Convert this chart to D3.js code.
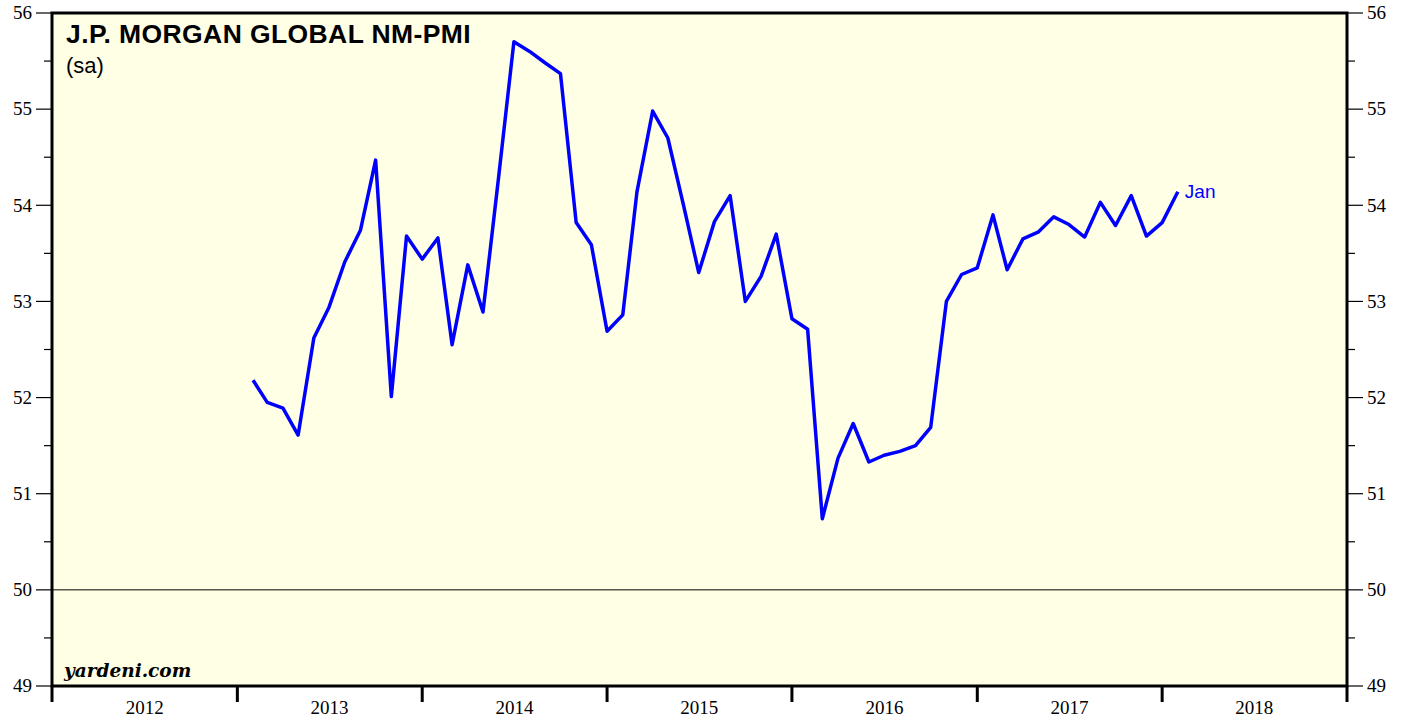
<!DOCTYPE html>
<html>
<head>
<meta charset="utf-8">
<script src="https://cdn.jsdelivr.net/npm/d3@7"></script>
<style>
  html, body { margin: 0; padding: 0; background: #fff; }
  svg { display: block; }
</style>
</head>
<body>
<div id="chart"></div>
<script>
// Monthly readings, Jan 2013 .. Jan 2018
var startYear = 2013, startMonth = 0;
var pmiValues = [
  52.18, 51.95, 51.89, 51.61, 52.62, 52.94, 53.41, 53.74, 54.47, 52.01, 53.68, 53.44,
  53.66, 52.55, 53.38, 52.89, 54.30, 55.70, 55.60, 55.48, 55.37, 53.82, 53.59, 52.69,
  52.86, 54.14, 54.98, 54.70, 54.00, 53.30, 53.83, 54.10, 53.00, 53.26, 53.70, 52.82,
  52.71, 50.74, 51.37, 51.73, 51.33, 51.40, 51.44, 51.50, 51.69, 53.00, 53.28, 53.35,
  53.90, 53.33, 53.65, 53.72, 53.88, 53.80, 53.67, 54.03, 53.79, 54.10, 53.68, 53.82,
  54.14
];
var yearLabels = [2012, 2013, 2014, 2015, 2016, 2017, 2018];
var yTicks = [49, 50, 51, 52, 53, 54, 55, 56];
var lastLabel = "Jan";

var W = 1408, H = 721;
var margin = {top: 13, right: 61, bottom: 35, left: 52};

// plotted at month end
var data = pmiValues.map(function(v, i) {
  return {date: new Date(startYear, startMonth + i + 1, 1), value: v};
});

var x = d3.scaleTime()
  .domain([new Date(2012, 0, 1), new Date(2019, 0, 1)])
  .range([margin.left, W - margin.right]);
var y = d3.scaleLinear()
  .domain([49, 56])
  .range([H - margin.bottom, margin.top]);

var svg = d3.select("#chart").append("svg")
  .attr("width", W).attr("height", H);

// background
svg.append("rect")
  .attr("x", x.range()[0]).attr("y", y(56))
  .attr("width", x.range()[1] - x.range()[0])
  .attr("height", y(49) - y(56))
  .attr("fill", "#ffffe6");

// 50 reference line
svg.append("line")
  .attr("x1", x.range()[0]).attr("x2", x.range()[1])
  .attr("y1", y(50)).attr("y2", y(50))
  .attr("stroke", "#000").attr("stroke-width", 1);

// y axes: major + half ticks
var halfTicks = d3.range(49.5, 56, 1);
function yAxis(g, side) {
  var x0 = side === "left" ? x.range()[0] : x.range()[1];
  var dir = side === "left" ? -1 : 1;
  g.selectAll(".maj").data(yTicks).enter().append("line")
    .attr("x1", x0).attr("x2", x0 + dir * 16)
    .attr("y1", y).attr("y2", y)
    .attr("stroke", "#000").attr("stroke-width", 1.2);
  g.selectAll(".min").data(halfTicks).enter().append("line")
    .attr("x1", x0).attr("x2", x0 + dir * 8)
    .attr("y1", y).attr("y2", y)
    .attr("stroke", "#000").attr("stroke-width", 1.2);
  g.selectAll("text").data(yTicks).enter().append("text")
    .attr("x", x0 + dir * 20)
    .attr("y", function(d) { return y(d); })
    .attr("dy", "0.33em")
    .attr("text-anchor", side === "left" ? "end" : "start")
    .style("font-family", "'Liberation Serif', 'Times New Roman', serif")
    .style("font-size", "19px")
    .text(function(d) { return d; });
}
svg.append("g").call(yAxis, "left");
svg.append("g").call(yAxis, "right");

// x axis: year boundary ticks, labels at mid-year
var yearBounds = d3.range(2012, 2020).map(function(yr) { return new Date(yr, 0, 1); });
svg.append("g").selectAll("line").data(yearBounds).enter().append("line")
  .attr("x1", x).attr("x2", x)
  .attr("y1", y(49)).attr("y2", y(49) + 16)
  .attr("stroke", "#000").attr("stroke-width", 3);
svg.append("g").selectAll("text").data(yearLabels).enter().append("text")
  .attr("x", function(d) { return x(new Date(d, 6, 2)); })
  .attr("y", y(49) + 28)
  .attr("text-anchor", "middle")
  .style("font-family", "'Liberation Serif', 'Times New Roman', serif")
  .style("font-size", "19px")
  .text(function(d) { return d; });

// frame
svg.append("rect")
  .attr("x", x.range()[0]).attr("y", y(56))
  .attr("width", x.range()[1] - x.range()[0])
  .attr("height", y(49) - y(56))
  .attr("fill", "none").attr("stroke", "#000").attr("stroke-width", 3);

// series
var line = d3.line()
  .x(function(d) { return x(d.date); })
  .y(function(d) { return y(d.value); });
svg.append("path")
  .datum(data)
  .attr("d", line)
  .attr("fill", "none")
  .attr("stroke", "#0000ff")
  .attr("stroke-width", 3.5)
  .attr("stroke-linejoin", "round");

var last = data[data.length - 1];
svg.append("text")
  .attr("x", x(last.date) + 7)
  .attr("y", y(last.value))
  .attr("dy", "0.35em")
  .attr("fill", "#0000ff")
  .style("font-family", "'Liberation Sans', Arial, sans-serif")
  .style("font-size", "19px")
  .text(lastLabel);

// titles
svg.append("text")
  .attr("x", 66).attr("y", 43)
  .style("font-family", "'Liberation Sans', Arial, sans-serif")
  .style("font-size", "26.5px").style("font-weight", "bold")
  .style("letter-spacing", "0.4px")
  .text("J.P. MORGAN GLOBAL NM-PMI");
svg.append("text")
  .attr("x", 66).attr("y", 73)
  .style("font-family", "'Liberation Sans', Arial, sans-serif")
  .style("font-size", "22px")
  .text("(sa)");
svg.append("text")
  .attr("x", 64).attr("y", 677)
  .style("font-family", "'DejaVu Serif', serif")
  .style("font-size", "18.5px").style("font-weight", "bold").style("font-style", "italic")
  .text("yardeni.com");
</script>
</body>
</html>
